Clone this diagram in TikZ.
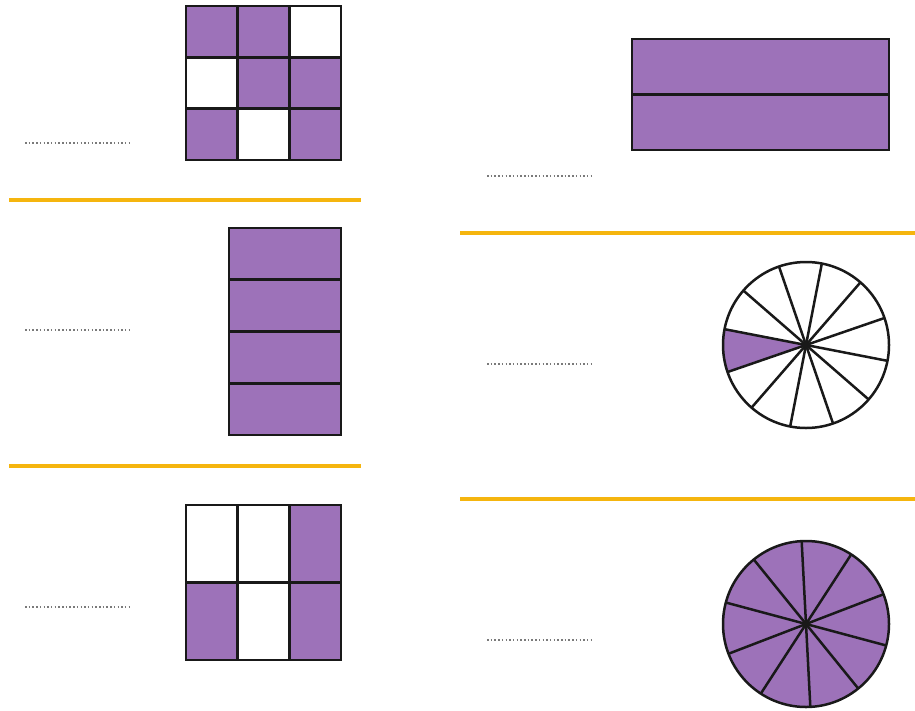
\documentclass[tikz,border=0pt]{standalone}
\usepackage{tikz}
\usetikzlibrary{calc}
\definecolor{Purple}{HTML}{9D72B9}
\definecolor{Gold}{HTML}{F5B50E}
\definecolor{Dots}{HTML}{7A7A7A}
\tikzset{cell/.style={draw=black!90,line width=2.8pt},full/.style={cell,fill=Purple},empty/.style={cell,fill=white},rule/.style={draw=Gold,line width=4pt},blank/.style={draw=Dots,line width=1.5pt,dash pattern=on 1.5pt off 2.2pt},spoke/.style={draw=black!90,line width=2.5pt}}
\begin{document}
\begin{tikzpicture}[x=1pt,y=1pt]
      \useasboundingbox[fill=white](0,0)rectangle(915,-710);
      % left column
      \foreach \r/\c/\s in {0/0/full,0/1/full,0/2/empty,1/0/empty,1/1/full,1/2/full,2/0/full,2/1/empty,2/2/full}
        \path[\s]({186+\c*51.67},{-6-\r*51.33})rectangle +(51.67,-51.33);
      \draw[blank](25,-143)--(131,-143);
      \draw[rule](9,-200)--(361,-200);
      \foreach \r in {0,...,3}
        \path[full](229,{-228-\r*51.75})rectangle +(112,-51.75);
      \draw[blank](25,-330)--(131,-330);
      \draw[rule](9,-466)--(361,-466);
      \foreach \r/\c/\s in {0/0/empty,0/1/empty,0/2/full,1/0/full,1/1/empty,1/2/full}
        \path[\s]({186+\c*51.67},{-505-\r*77.5})rectangle +(51.67,-77.5);
      \draw[blank](25,-607)--(131,-607);
      % right column
      \foreach \r in {0,1}
        \path[full](632,{-39-\r*55.5})rectangle +(257,-55.5);
      \draw[blank](487,-176)--(594,-176);
      \draw[rule](460,-233)--(915,-233);
      \coordinate(pie1)at(806,-345);
      \fill[Purple](pie1)--($(pie1)+(169:83)$)arc[start angle=169,end angle=199,radius=83]--cycle;
      \foreach \a in {19,49,...,169}
        \draw[spoke]($(pie1)+(\a:83)$)--($(pie1)+(\a+180:83)$);
      \draw[spoke](pie1)circle[radius=83];
      \draw[blank](487,-364)--(594,-364);
      \draw[rule](460,-499)--(915,-499);
      \coordinate(pie2)at(806,-624);
      \fill[Purple](pie2)circle[radius=83];
      \foreach \a in {21,57,...,165}
        \draw[spoke]($(pie2)+(\a:83)$)--($(pie2)+(\a+180:83)$);
      \draw[spoke](pie2)circle[radius=83];
      \draw[blank](487,-640)--(594,-640);
    \end{tikzpicture}
\end{document}
